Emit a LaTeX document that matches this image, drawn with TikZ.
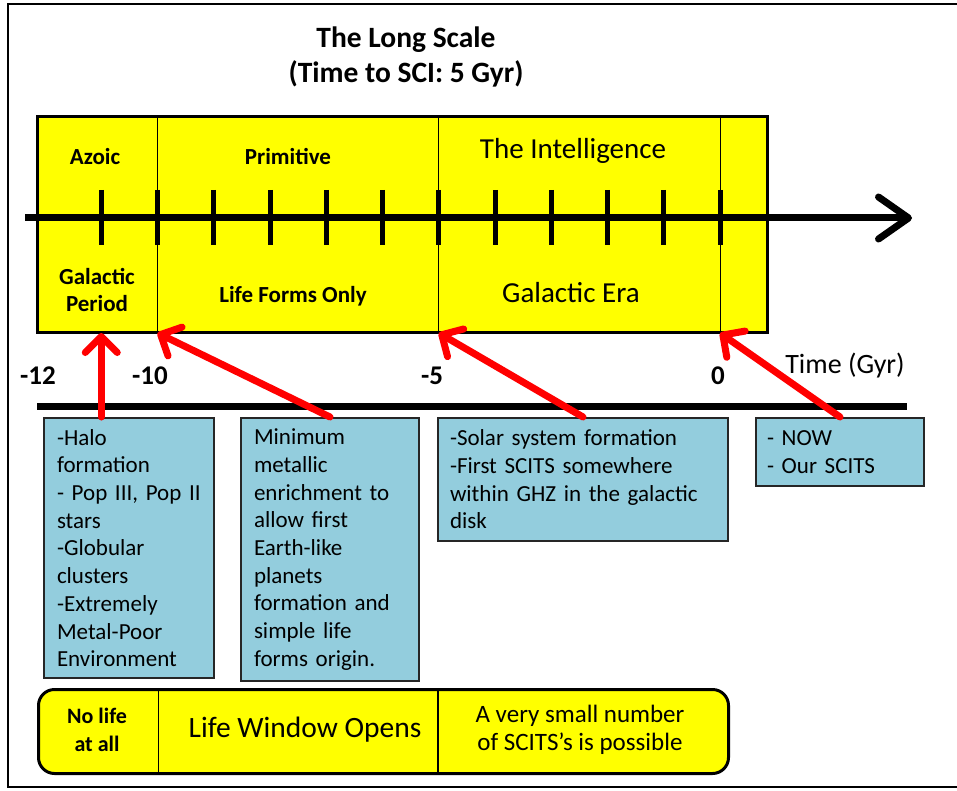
\documentclass[tikz,border=0pt]{standalone}
\usepackage{fontspec}
\setmainfont{Carlito}
\usetikzlibrary{arrows.meta}
\definecolor{eraYellow}{RGB}{255,255,0}
\definecolor{noteBlue}{RGB}{147,205,221}
\definecolor{pointerRed}{RGB}{255,0,0}
\begin{document}
\begin{tikzpicture}[x=1pt, y=-1pt,
  cell/.style={draw, line width=1.2pt, fill=eraYellow, minimum height=214pt, inner sep=0pt, anchor = north west},
  era/.style={font=\bfseries\fontsize{23}{27}\selectfont, align=center},
  bigera/.style={font=\fontsize{29}{34}\selectfont, align=center},
  num/.style={font=\bfseries\fontsize{27}{32}\selectfont},
  note/.style={draw=black!85, line width=2pt, fill=noteBlue, anchor = north west, align=left, inner xsep=13pt, inner ysep=4pt, font=\fontsize{23}{27.7}\selectfont},
  axis/.style={line width=7pt, -{Straight Barb[round, length=30pt, width=42pt]}},
  tick/.style={line width=5pt},
  pointer/.style={draw=pointerRed, line width=7pt, line cap=round, -{Straight Barb[round, length=16pt, width=32pt]}}]
\useasboundingbox (0,0) rectangle (957,791);
%Frame
\draw[line width=2pt] (957,4) -- (8,4) -- (8,787) -- (957,787);
%Title
\node[font=\bfseries\fontsize{29.5}{35}\selectfont, align=center] (title) at (406,57) {The Long Scale\\(Time to SCI: 5 Gyr)};
%Era bar
\node[cell, minimum width=120pt] (azoic) at (37,117) {};
\node[cell, minimum width=281pt] (primitive) at (157,117) {};
\node[cell, minimum width=282pt] (intel) at (438,117) {};
\node[cell, minimum width=46pt] (nowcell) at (720,117) {};
\draw[line width=3pt] (azoic.north west) rectangle (nowcell.south east);
\node[era] (azoictop) at (95,157) {Azoic};
\node[era] (azoicbot) at (97,290) {Galactic\\Period};
\node[era] (primtop) at (288,157) {Primitive};
\node[era] (primbot) at (293,296) {Life Forms Only};
\node[bigera] (inteltop) at (573,151) {The Intelligence};
\node[bigera] (intelbot) at (571,293) {Galactic Era};
%Time axis
\coordinate (axstart) at (25,218);
\coordinate (axend) at (912,218);
\draw[axis] (axstart) -- (axend);
\foreach \t in {-11,...,0}{
  \draw[tick] (720+56.25*\t,190) -- (720+56.25*\t,245);
  \coordinate (foot\t) at (720+56.25*\t,333);
}
%Scale
\node[num] (m12) at (38,376) {-12};
\node[num] (m10) at (150,376) {-10};
\node[num] (m5) at (432,376) {-5};
\node[num] (zero) at (718,376) {0};
\node[font=\fontsize{28}{33}\selectfont] (unit) at (845,366) {Time (Gyr)};
\draw[line width=7pt] (37,406) -- (907,406);
%Notes
\node[note, text width=144pt, minimum height=260pt] (halo) at (43,417)
  {-Halo\\formation\\- Pop III, Pop II\\stars\\-Globular\\clusters\\-Extremely\\Metal-Poor\\Environment};
\node[note, text width=152pt, minimum height=263pt] (metal) at (240,417)
  {Minimum\\metallic\\enrichment to\\allow first\\Earth-like\\planets\\formation and\\simple life\\forms origin.};
\node[note, text width=266pt, inner xsep=12pt, minimum height=123pt] (solar) at (437,417)
  {-Solar system formation\\-First SCITS somewhere\\within GHZ in the galactic\\disk};
\node[note, text width=146pt, inner xsep=11pt, minimum height=68pt] (now) at (755,417)
  {- NOW\\- Our SCITS};
%Pointers
\draw[pointer] (foot-11 |- halo.north) -- (foot-11);
\draw[pointer] (metal.north) -- (foot-10);
\draw[pointer] (solar.north) -- (foot-5);
\draw[pointer] (now.north) -- (foot0);
%Life window
\node[draw, line width=3pt, fill=eraYellow, rounded corners=16pt, anchor = north west,
  minimum width=690pt, minimum height=84pt, inner sep=0pt] (window) at (37,688) {};
\draw[line width=1.2pt] (azoic.south east |- window.north) -- (azoic.south east |- window.south);
\draw[line width=1.2pt] (intel.south west |- window.north) -- (intel.south west |- window.south);
\node[font=\bfseries\fontsize{22}{28}\selectfont, align=center] (nolife) at (97,730) {No life\\at all};
\node[font=\fontsize{29.5}{33}\selectfont] (opens) at (305,730) {Life Window Opens};
\node[font=\fontsize{25}{28}\selectfont, align=center] (few) at (580,730) {A very small number\\of SCITS's is possible};
\end{tikzpicture}
\end{document}
